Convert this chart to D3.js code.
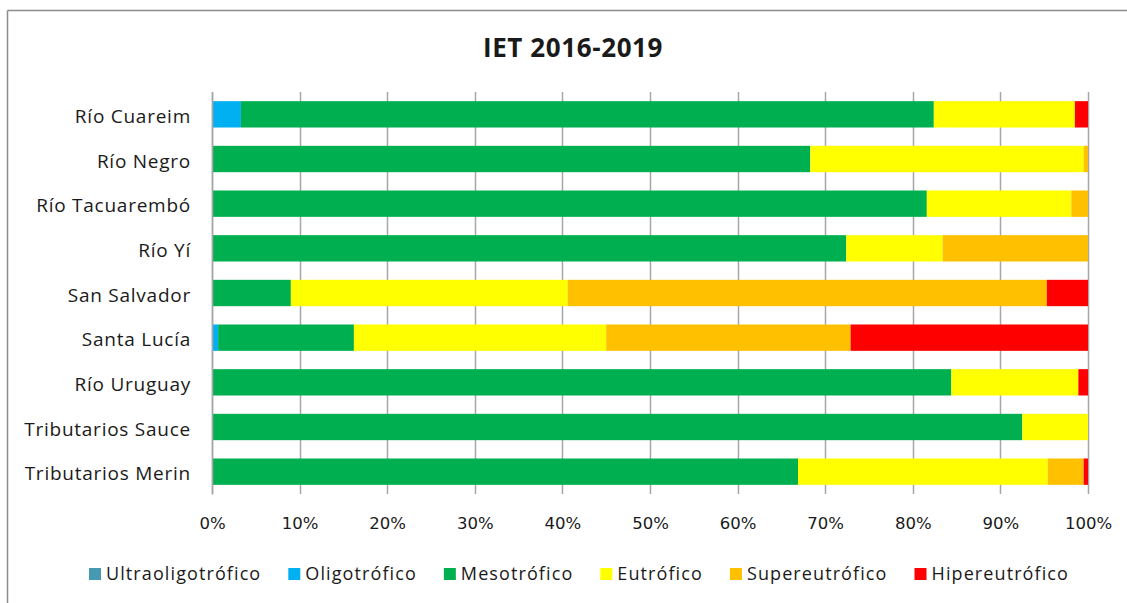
<!DOCTYPE html>
<html>
<head>
<meta charset="utf-8">
<script src="https://cdn.jsdelivr.net/npm/d3@7"></script>
<style>
  html, body { margin: 0; padding: 0; background: #fff; }
  svg { display: block; }
  text { font-family: "Open Sans", "Noto Sans", sans-serif; fill: #1a1a1a; }
</style>
</head>
<body>
<svg id="chart" width="1127" height="603"></svg>
<script>
const categories = ["Río Cuareim", "Río Negro", "Río Tacuarembó", "Río Yí", "San Salvador",
  "Santa Lucía", "Río Uruguay", "Tributarios Sauce", "Tributarios Merin"];
const seriesNames = ["Ultraoligotrófico", "Oligotrófico", "Mesotrófico", "Eutrófico", "Supereutrófico", "Hipereutrófico"];
const seriesColors = ["#4599B0", "#00B0F0", "#00B050", "#FFFF00", "#FFC000", "#FF0000"];
const ultraoligotrofico = [0, 0, 0, 0, 0, 0, 0, 0, 0];
const oligotrofico      = [3.3, 0, 0, 0, 0, 0.7, 0, 0, 0];
const mesotrofico       = [79.1, 68.3, 81.6, 72.4, 9.0, 15.5, 84.4, 92.5, 66.9];
const eutrofico         = [16.1, 31.2, 16.5, 11.0, 31.6, 28.8, 14.5, 7.5, 28.5];
const supereutrofico    = [0, 0.5, 1.9, 16.6, 54.7, 27.9, 0, 0, 4.1];
const hipereutrofico    = [1.5, 0, 0, 0, 4.7, 27.1, 1.1, 0, 0.5];
const tickValues = [0, 10, 20, 30, 40, 50, 60, 70, 80, 90, 100];
const title = "IET 2016-2019";

const allSeries = [ultraoligotrofico, oligotrofico, mesotrofico, eutrofico, supereutrofico, hipereutrofico];
const rows = categories.map((c, i) => {
  const o = { cat: c };
  seriesNames.forEach((s, j) => o[s] = allSeries[j][i]);
  return o;
});

const svg = d3.select("#chart");
const W = 1127, H = 603;
const plot = { left: 212, right: 1088, top: 92, bottom: 494 };

// outer border (top & left visible)
svg.append("line").attr("x1", 7.5).attr("x2", W).attr("y1", 10.5).attr("y2", 10.5)
  .attr("stroke", "#8c8c8c").attr("stroke-width", 1.5);
svg.append("line").attr("x1", 7.5).attr("x2", 7.5).attr("y1", 10.5).attr("y2", H)
  .attr("stroke", "#8c8c8c").attr("stroke-width", 1.5);

const x = d3.scaleLinear().domain([0, 100]).range([plot.left, plot.right]);
const y = d3.scaleBand().domain(categories).range([plot.top, plot.bottom]).paddingInner(0.41).paddingOuter(0.205);

// gridlines
svg.append("g").selectAll("line").data(tickValues).join("line")
  .attr("x1", d => Math.round(x(d)) + 0.5).attr("x2", d => Math.round(x(d)) + 0.5)
  .attr("y1", plot.top).attr("y2", plot.bottom)
  .attr("stroke", "#a6a6a6").attr("stroke-width", 1.5);

// stacked bars
const stack = d3.stack().keys(seriesNames);
const stacked = stack(rows);
svg.append("g").selectAll("g").data(stacked).join("g")
  .attr("fill", (d, i) => seriesColors[i])
  .selectAll("rect").data(d => d).join("rect")
  .attr("x", d => x(d[0]))
  .attr("width", d => Math.max(0, x(d[1]) - x(d[0])))
  .attr("y", d => y(d.data.cat))
  .attr("height", y.bandwidth());

// x axis
const xAxis = svg.append("g").attr("transform", `translate(0,${plot.bottom})`)
  .call(d3.axisBottom(x).tickValues(tickValues).tickFormat(d => d + "%").tickSize(0).tickPadding(23));
xAxis.select(".domain").remove();
xAxis.selectAll("text").style("font-family", "'DejaVu Sans', sans-serif").attr("font-size", 16.5).attr("fill", "#1a1a1a");

// y axis
const yAxis = svg.append("g").attr("transform", `translate(${plot.left},0)`)
  .call(d3.axisLeft(y).tickSize(0).tickPadding(21));
yAxis.select(".domain").attr("stroke", "#a6a6a6").attr("stroke-width", 1.5);
yAxis.selectAll("text").attr("font-size", 19).attr("letter-spacing", 0.75).attr("fill", "#1a1a1a")
  .attr("dy", "0.45em")
  .style("font-family", "'Open Sans', sans-serif");

// title
svg.append("text").attr("x", 573).attr("y", 57).attr("text-anchor", "middle")
  .attr("font-size", 26).attr("letter-spacing", 0.6).attr("font-weight", "bold").text(title);

// legend
const legend = svg.append("g");
const items = legend.selectAll("g").data(seriesNames).join("g");
items.append("rect").attr("width", 12).attr("height", 12).attr("y", -6).attr("fill", (d, i) => seriesColors[i]);
items.append("text").attr("x", 17).attr("dy", "0.35em").attr("font-size", 18).attr("letter-spacing", 1.1).text(d => d);
let cx = 0;
const gap = 27;
items.each(function() {
  const g = d3.select(this);
  const w = 17 + g.select("text").node().getComputedTextLength();
  g.attr("transform", `translate(${cx},0)`);
  cx += w + gap;
});
const total = cx - gap;
legend.attr("transform", `translate(${579 - total / 2},574)`);
</script>
</body>
</html>
